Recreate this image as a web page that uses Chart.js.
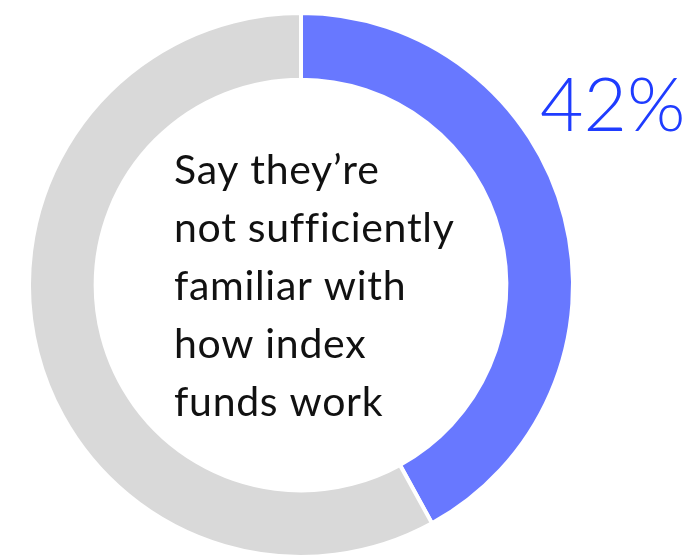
<!DOCTYPE html>
<html>
<head>
<meta charset="utf-8">
<script src="https://cdn.jsdelivr.net/npm/chart.js@4"></script>
<style>
    html, body { margin: 0; padding: 0; background: #ffffff; overflow: hidden; }
    #wrap { width: 688px; height: 556px; overflow: hidden; }
</style>
</head>
<body>
<div id="wrap"><canvas id="donutChart" width="688" height="562"></canvas></div>
<script>
// ---- DATA ----
const segmentLabels = ["Not sufficiently familiar", "Other"];
const segmentValues = [42, 58];
const segmentColors = ["#6878ff", "#d9d9d9"];
const centerLines = ["Say they\u2019re", "not sufficiently", "familiar with", "how index", "funds work"];
const bigLabel = "42%";

// draws the caption inside the hole and the big percentage
const textPlugin = {
    id: "donutText",
    afterDraw(chart) {
        const ctx = chart.ctx;
        ctx.save();
        ctx.textAlign = "left";
        ctx.textBaseline = "alphabetic";

        ctx.fillStyle = "#111111";
        ctx.font = "400 41px Lato, 'Open Sans', sans-serif";
        ctx.letterSpacing = "0.7px";
        let y = 184;
        centerLines.forEach(line => {
            ctx.fillText(line, 174, y);
            y += 58;
        });

        ctx.fillStyle = "#1f3cff";
        ctx.font = "300 75px Lato, 'Open Sans', sans-serif";
        ctx.letterSpacing = "0px";
        ctx.fillText(bigLabel, 540, 131);
        ctx.restore();
    }
};

const ctx = document.getElementById("donutChart").getContext("2d");
new Chart(ctx, {
    type: "doughnut",
    data: {
        labels: segmentLabels,
        datasets: [{
            data: segmentValues,
            backgroundColor: segmentColors,
            borderColor: "#ffffff",
            borderWidth: 4,
            hoverOffset: 0
        }]
    },
    options: {
        responsive: false,
        animation: false,
        cutout: "75.5%",
        layout: { padding: { left: 27, top: 11, right: 113, bottom: 3 } },
        plugins: {
            legend: { display: false },
            tooltip: { enabled: false }
        }
    },
    plugins: [textPlugin]
});
</script>
</body>
</html>
